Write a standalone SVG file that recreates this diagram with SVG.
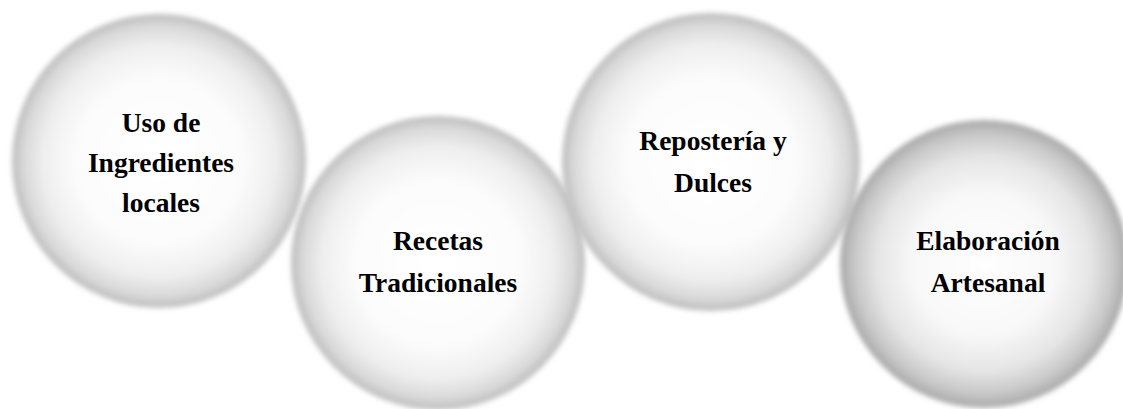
<svg xmlns="http://www.w3.org/2000/svg" width="1123" height="409" viewBox="0 0 1123 409">
  <style>
    .ball { fill: url(#sphere); filter: url(#soft); }
    .ball.dim { fill: url(#sphere-dim); }
    .label { font-family: "Liberation Serif", "Times New Roman", serif; font-weight: bold; font-size: 27.5px; fill: #000; text-anchor: middle; }
  </style>
  <defs>
    <!-- white core fading to a grey rim -->
    <radialGradient id="sphere" cx="0.5" cy="0.5" r="0.5">
      <stop offset="0" stop-color="#ffffff"/>
      <stop offset="0.55" stop-color="#fcfcfc"/>
      <stop offset="0.78" stop-color="#efefef"/>
      <stop offset="0.92" stop-color="#d9d9d9"/>
      <stop offset="1" stop-color="#bcbcbc"/>
    </radialGradient>
    <!-- slightly greyer variant for the last sphere -->
    <radialGradient id="sphere-dim" cx="0.5" cy="0.5" r="0.5">
      <stop offset="0" stop-color="#fefefe"/>
      <stop offset="0.5" stop-color="#f8f8f8"/>
      <stop offset="0.75" stop-color="#e4e4e4"/>
      <stop offset="0.9" stop-color="#c8c8c8"/>
      <stop offset="1" stop-color="#a8a8a8"/>
    </radialGradient>
    <filter id="soft" x="-10%" y="-10%" width="120%" height="120%">
      <feGaussianBlur stdDeviation="2.5"/>
    </filter>
  </defs>
  <rect width="1123" height="409" fill="#ffffff"/>

  <g id="node-ingredientes">
    <circle class="ball" cx="159" cy="161" r="147"/>
    <text class="label" x="161" y="132">Uso de</text>
    <text class="label" x="161" y="172">Ingredientes</text>
    <text class="label" x="161" y="212">locales</text>
  </g>

  <g id="node-recetas">
    <circle class="ball" cx="438" cy="263" r="147"/>
    <text class="label" x="438" y="250">Recetas</text>
    <text class="label" x="438" y="292">Tradicionales</text>
  </g>

  <g id="node-reposteria">
    <circle class="ball" cx="711" cy="162" r="149"/>
    <text class="label" x="713" y="150">Repostería y</text>
    <text class="label" x="713" y="192">Dulces</text>
  </g>

  <g id="node-elaboracion">
    <circle class="ball dim" cx="984" cy="264" r="144"/>
    <text class="label" x="988" y="250">Elaboración</text>
    <text class="label" x="988" y="292">Artesanal</text>
  </g>

  <g id="connectors"></g>
</svg>
